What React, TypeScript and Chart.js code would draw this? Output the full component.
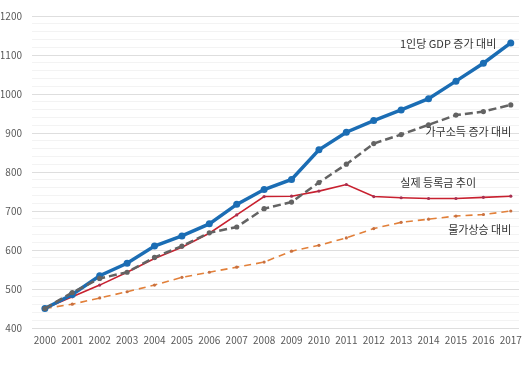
import React, { useEffect, useRef } from "react";
import { Chart, registerables } from "chart.js";

Chart.register(...registerables);

const years = ["2000","2001","2002","2003","2004","2005","2006","2007","2008","2009","2010","2011","2012","2013","2014","2015","2016","2017"];
const gdpPerCapita = [450, 486, 534, 566, 610, 636, 667, 717, 755, 781, 857, 902, 932, 959, 988, 1033, 1079, 1131];
const householdIncome = [450, 491, 527, 543, 581, 610, 644, 659, 706, 723, 773, 820, 873, 896, 921, 946, 955, 972];
const actualTuition = [450, 480, 510, 543, 578, 607, 643, 690, 737, 738, 751, 768, 737, 734, 732, 732, 735, 738];
const inflation = [450, 461, 477, 493, 510, 530, 543, 556, 569, 597, 612, 631, 655, 671, 679, 687, 691, 700];

const annotations = [
  { text: "1인당 GDP 증가 대비", x: 16.47, y: 1128, align: "right" },
  { text: "가구소득 증가 대비", x: 17.02, y: 902, align: "right" },
  { text: "실제 등록금 추이", x: 12.97, y: 772, align: "left" },
  { text: "물가상승 대비", x: 17.02, y: 651, align: "right" },
];

const FONT = "'Noto Sans CJK KR', 'Noto Sans', sans-serif";

const labelPlugin = {
  id: "seriesLabels",
  afterDatasetsDraw(chart: any) {
    const { ctx, scales } = chart;
    ctx.save();
    ctx.font = `11px ${FONT}`;
    ctx.fillStyle = "#333333";
    ctx.textBaseline = "middle";
    annotations.forEach((a) => {
      ctx.textAlign = a.align;
      ctx.fillText(a.text, scales.x.getPixelForValue(a.x), scales.y.getPixelForValue(a.y));
    });
    ctx.restore();
  },
};

const toPts = (arr: number[]) => arr.map((v, i) => ({ x: i, y: v }));

export default function App() {
  const ref = useRef<HTMLCanvasElement | null>(null);
  useEffect(() => {
    if (!ref.current) return;
    const chart = new Chart(ref.current, {
      type: "line",
      data: {
        datasets: [
          {
            label: "1인당 GDP 증가 대비",
            data: toPts(gdpPerCapita),
            borderColor: "#1b6db4",
            backgroundColor: "#1b6db4",
            borderWidth: 3.5,
            pointRadius: 3.5,
            pointBorderWidth: 0,
            order: 1,
          },
          {
            label: "실제 등록금 추이",
            data: toPts(actualTuition),
            borderColor: "#c8202f",
            backgroundColor: "#a83050",
            borderWidth: 1.6,
            pointRadius: 1.6,
            pointBorderWidth: 0,
            order: 2,
          },
          {
            label: "가구소득 증가 대비",
            data: toPts(householdIncome),
            borderColor: "#636363",
            backgroundColor: "#636363",
            borderWidth: 2.5,
            borderDash: [8, 4],
            pointRadius: 2.6,
            pointBorderWidth: 0,
            order: 0,
          },
          {
            label: "물가상승 대비",
            data: toPts(inflation),
            borderColor: "#e2803a",
            backgroundColor: "#c87040",
            borderWidth: 1.6,
            borderDash: [7, 5],
            pointRadius: 1.6,
            pointBorderWidth: 0,
            order: 3,
          },
        ],
      },
      options: {
        animation: false,
        responsive: true,
        maintainAspectRatio: false,
        layout: { padding: { left: 1, right: 3, top: 15, bottom: 20 } },
        plugins: { legend: { display: false }, tooltip: { enabled: false } },
        scales: {
          x: {
            type: "linear",
            min: -0.47,
            max: 17.3,
            afterBuildTicks: (scale: any) => {
              scale.ticks = years.map((_, i) => ({ value: i }));
            },
            afterFit: (scale: any) => {
              scale.paddingLeft = 0;
              scale.paddingRight = 0;
            },
            ticks: {
              callback: (v: any) => years[v as number] ?? "",
              color: "#595959",
              font: { size: 10, family: FONT },
              padding: 6,
              maxRotation: 0,
              autoSkip: false,
            },
            grid: { display: false, drawTicks: false },
            border: { display: false },
          },
          y: {
            min: 400,
            max: 1200,
            afterFit: (scale: any) => {
              scale.width = 31;
            },
            ticks: {
              stepSize: 20,
              callback: (v: any) => (Number(v) % 100 === 0 ? String(v) : ""),
              color: "#595959",
              font: { size: 10, family: FONT },
              padding: 10,
              autoSkip: false,
            },
            grid: {
              drawTicks: false,
              color: (c: any) => (c.tick && c.tick.value % 100 === 0 ? "#dedede" : "#f3f3f3"),
              lineWidth: 1,
            },
            border: { display: false },
          },
        },
      },
      plugins: [labelPlugin],
    });
    return () => chart.destroy();
  }, []);
  return (
    <div style={{ position: "fixed", left: 0, top: 0, width: 523, height: 372, background: "#fff" }}>
      <canvas ref={ref} />
    </div>
  );
}
